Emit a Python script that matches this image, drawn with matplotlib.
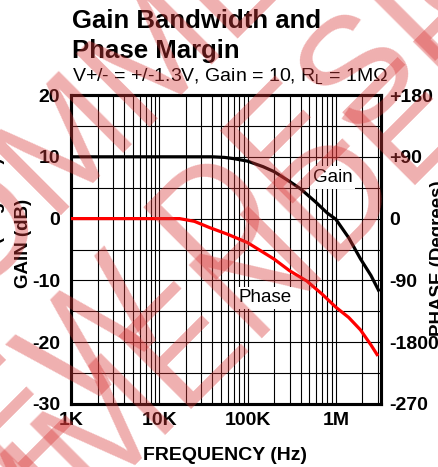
import numpy as np
import matplotlib
matplotlib.use("Agg")
import matplotlib.pyplot as plt
from matplotlib.ticker import FixedLocator, NullFormatter

# ---------------- data ----------------
gain_freq = [1e3, 10e3, 40e3, 55e3, 70e3, 100e3, 150e3, 200e3, 300e3, 400e3,
             600e3, 800e3, 1.0e6, 1.4e6, 1.9e6, 2.5e6, 3.1e6]
gain_db = [10, 10, 10, 9.9, 9.7, 9.3, 8.4, 7.6, 6.0, 4.8,
           2.6, 0.9, -0.1, -3.1, -6.5, -9.2, -11.8]

phase_freq = [1e3, 10e3, 17e3, 25e3, 37e3, 60e3, 100e3, 150e3, 200e3, 300e3,
              470e3, 700e3, 1.0e6, 1.4e6, 1.9e6, 2.5e6, 3.0e6]
phase_deg = [0, 0, 0, -4, -13, -23, -35, -49, -59, -76,
             -91, -110, -129, -144, -162, -184, -200]

x_ticks = [1e3, 1e4, 1e5, 1e6]
x_labels = ["1K", "10K", "100K", "1M"]
gain_ticks = [-30, -20, -10, 0, 10, 20]
gain_labels = ["-30", "-20", "-10", "0", "10", "20"]
phase_ticks = [-270, -180, -90, 0, 90, 180]
phase_labels = ["-270", "-1800", "-90", "0", "+90", "+180"]

title_lines = ["Gain Bandwidth and", "Phase Margin"]
subtitle = r"V+/- = +/-1.3V, Gain = 10, R$_\mathregular{L}$ = 1M$\mathregular{\Omega}$"

# ---------------- figure ----------------
W, H = 438, 467
plt.rcParams['font.family'] = ['Liberation Sans', 'DejaVu Sans']
plt.rcParams['mathtext.fontset'] = 'custom'
plt.rcParams['mathtext.rm'] = 'Liberation Sans'
fig = plt.figure(figsize=(W / 100, H / 100), dpi=100)

def fx(px):
    return px / W

def fy(py):
    return 1 - py / H

L, R, T, B = 71, 381, 95, 404
ax = fig.add_axes([fx(L), fy(B), (R - L) / W, (B - T) / H])
ax.set_xscale('log')
ax.set_xlim(1e3, 3.25e6)
ax.set_ylim(-30, 20)

minor_x = [m * 10 ** e for e in range(3, 7) for m in range(2, 10) if m * 10 ** e < 3.25e6]
ax.xaxis.set_major_locator(FixedLocator(x_ticks))
ax.xaxis.set_minor_locator(FixedLocator(minor_x))
ax.xaxis.set_minor_formatter(NullFormatter())
ax.set_xticklabels(x_labels)
ax.set_yticks(gain_ticks)
ax.set_yticklabels(gain_labels)
ax.yaxis.set_minor_locator(FixedLocator([-25, -15, -5, 5, 15]))

ax.grid(True, which='both', color='black', linewidth=0.8)
ax.tick_params(which='both', length=0)
ax.tick_params(axis='x', pad=6, labelsize=14)
ax.tick_params(axis='y', pad=8, labelsize=14)
for lab in ax.get_xticklabels() + ax.get_yticklabels():
    lab.set_fontweight('bold')
for s in ax.spines.values():
    s.set_linewidth(2.2)
    s.set_zorder(5)

ax.plot(gain_freq, gain_db, color='black', linewidth=2.3, zorder=4,
        solid_capstyle='butt', solid_joinstyle='round')

ax2 = ax.twinx()
ax2.set_ylim(-270, 180)
ax2.set_yticks(phase_ticks)
ax2.set_yticklabels(phase_labels)
ax2.tick_params(which='both', length=0, pad=6, labelsize=14)
for lab in ax2.get_yticklabels():
    lab.set_fontweight('bold')
for s in ax2.spines.values():
    s.set_linewidth(2.2)
ax2.plot(phase_freq, phase_deg, color='#ff0000', linewidth=2.3, zorder=4,
         solid_capstyle='butt', solid_joinstyle='round')

ax.text(5.5e5, 5.9, "Gain", fontsize=13.5, ha='left', va='baseline', zorder=6,
        bbox=dict(boxstyle='square,pad=0.15', facecolor='white', edgecolor='none'))
ax2.text(8.0e4, -122, "Phase", fontsize=13.5, ha='left', va='baseline', zorder=6,
         bbox=dict(boxstyle='square,pad=0.15', facecolor='white', edgecolor='none'))

# ---------------- text ----------------
fig.text(fx(72), fy(28), title_lines[0], fontsize=18.5, fontweight='bold',
         ha='left', va='baseline')
fig.text(fx(72), fy(58), title_lines[1], fontsize=18.5, fontweight='bold',
         ha='left', va='baseline')
fig.text(fx(72), fy(82), subtitle, fontsize=14, ha='left', va='baseline')

fig.text(fx(225), fy(456), "FREQUENCY (Hz)", fontsize=14, fontweight='bold',
         ha='center', va='center')
fig.text(fx(24), fy(243), "GAIN (dB)", fontsize=13.5, fontweight='bold',
         rotation=90, ha='center', va='center')
fig.text(fx(430), fy(258), "PHASE (Degrees)", fontsize=13.5, fontweight='bold',
         rotation=90, ha='left', va='center')
fig.text(fx(5), fy(235), "PHASE (Degrees)", fontsize=13.5, fontweight='bold',
         rotation=90, ha='right', va='center')

# ---------------- watermark ----------------
wm_color = (0.85, 0.22, 0.22)
wm_kw = dict(fontsize=108, color=wm_color, alpha=0.40, rotation=45,
             rotation_mode='anchor', ha='left', va='baseline', zorder=20)
fig.text(fx(-505), fy(781), "NOT RECOMMENDED", **wm_kw)
fig.text(fx(-69), fy(565), "NEW DESIGNS", **wm_kw)
fig.text(fx(-300), fy(900), "RECOMMENDED REPLACEMENT", **wm_kw)

fig.savefig("out.png", dpi=100)
